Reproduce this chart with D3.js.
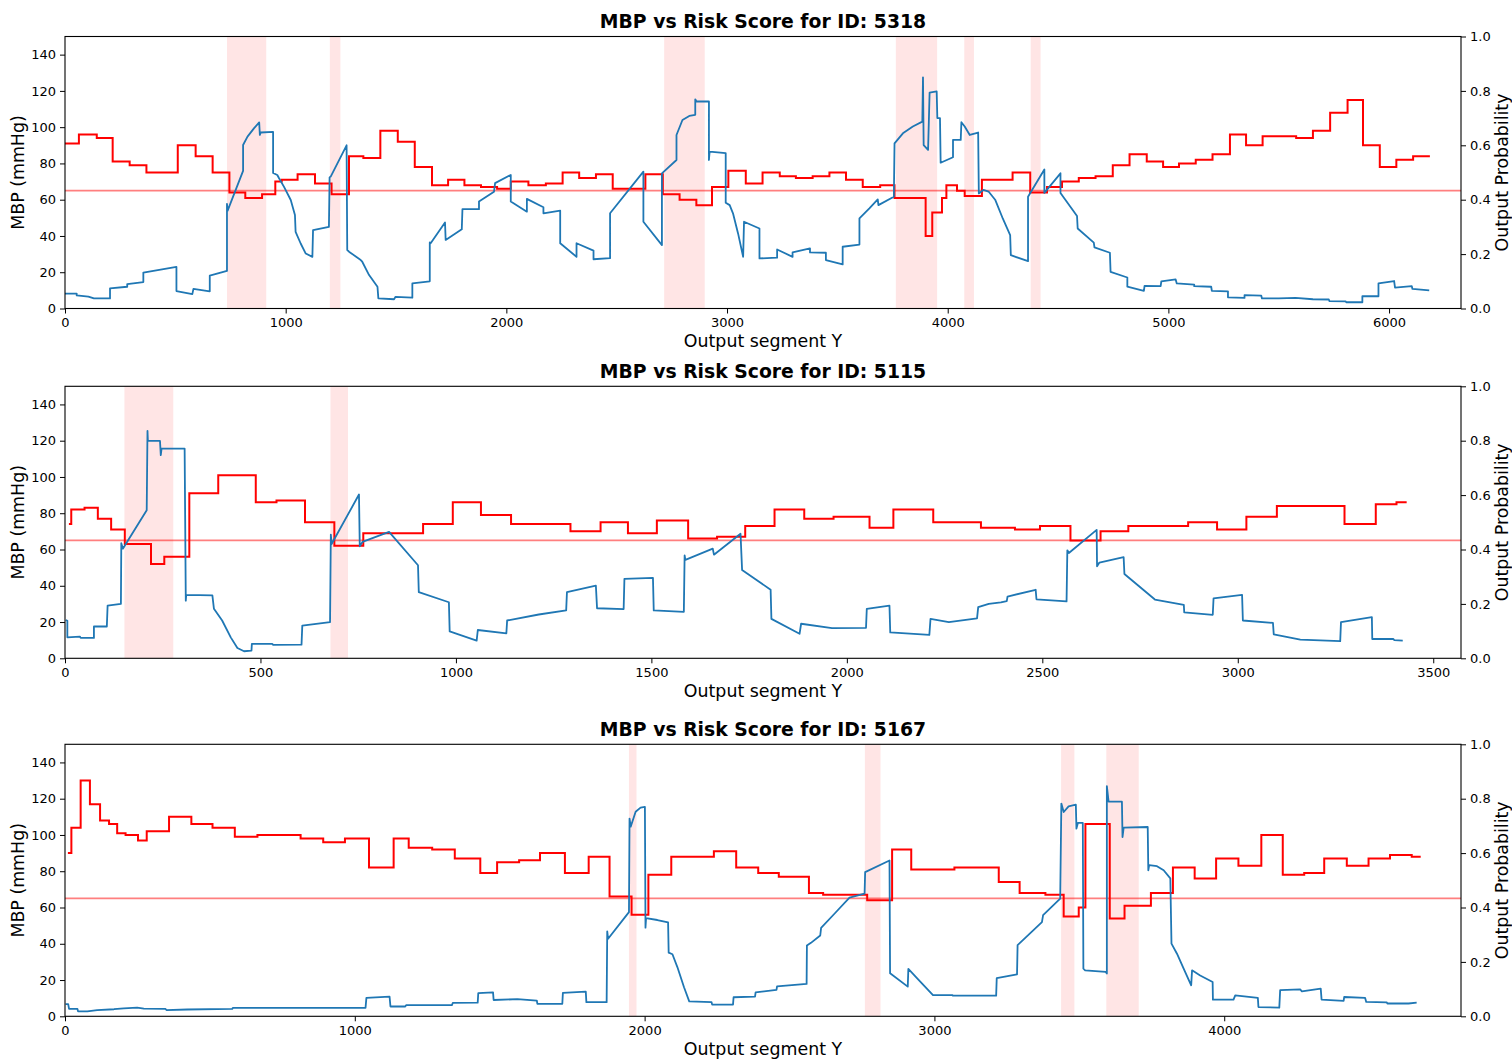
<!DOCTYPE html>
<html><head><meta charset="utf-8">
<script src="https://cdn.jsdelivr.net/npm/d3@7"></script>
<style>
html,body{margin:0;padding:0;background:#fff;}
svg{display:block;font-family:"DejaVu Sans",sans-serif;}
</style></head><body>
<svg id="c" width="1512" height="1059"></svg>
<script>
// ---------------- DATA ----------------
const titles = ["MBP vs Risk Score for ID: 5318", "MBP vs Risk Score for ID: 5115", "MBP vs Risk Score for ID: 5167"];
const xAxisLabel = "Output segment Y";
const leftLabel = "MBP (mmHg)";
const rightLabel = "Output Probability";
const mbpThreshold = 65;
const leftTicks = [0,20,40,60,80,100,120,140];
const rightTicks = [0,0.2,0.4,0.6,0.8,1.0];
const xTicks1 = [0,1000,2000,3000,4000,5000,6000];
const xTicks2 = [0,500,1000,1500,2000,2500,3000,3500];
const xTicks3 = [0,1000,2000,3000,4000];
const xMax = [6326, 3571, 4817];

// MBP step series: [segment start, MBP]; last entry = end of series
const mbp1 = [[0,91],[63,96],[144,94],[216,81],[293,79],[369,75],[511,90],[592,84],[669,75],[745,64],[817,61],[893,63],[953,70],[982,71],[1054,74],[1133,69],[1208,63],[1287,84],[1352,83],[1429,98],[1508,92],[1585,78],[1663,68],[1736,71],[1810,68],[1885,67],[1958,66],[2020,70],[2100,68],[2179,69],[2255,75],[2330,72],[2406,74],[2482,66],[2630,74],[2709,63],[2785,60],[2861,57],[2932,67],[3006,76],[3085,69],[3161,75],[3239,73],[3312,72],[3388,73],[3464,75],[3539,71],[3615,67],[3694,68],[3759,61],[3900,40],[3930,53],[3974,61],[3994,68],[4042,65],[4077,62],[4155,71],[4294,75],[4374,64],[4450,67],[4518,70],[4594,72],[4670,73],[4748,79],[4824,85],[4902,81],[4976,78],[5048,80],[5124,82],[5200,85],[5279,96],[5352,90],[5427,95],[5579,94],[5655,98],[5733,108],[5812,115],[5882,90],[5958,78],[6033,82],[6109,84],[6185,84]];
const mbp2 = [[10,74],[16,82],[50,83],[84,77],[118,71],[153,63],[220,52],[254,56],[318,91],[392,101],[488,86],[541,87],[614,75],[689,62],[763,69],[916,74],[992,86],[1064,79],[1141,74],[1293,70],[1370,75],[1440,69],[1514,76],[1594,66],[1668,67],[1740,73],[1815,82],[1891,77],[1966,78],[2058,72],[2119,82],[2221,75],[2343,72],[2430,71],[2494,73],[2572,65],[2649,70],[2720,73],[2873,75],[2947,71],[3022,78],[3100,84],[3273,74],[3353,85],[3406,86],[3432,86]];
const mbp3 = [[10,90],[22,104],[54,130],[86,117],[121,108],[152,106],[180,101],[209,100],[252,97],[282,102],[359,110],[436,106],[509,104],[586,99],[664,100],[813,98],[891,96],[966,98],[1049,82],[1134,98],[1186,93],[1267,92],[1345,87],[1433,79],[1491,85],[1567,86],[1639,90],[1725,79],[1807,88],[1879,66],[1955,56],[2013,78],[2092,88],[2239,91],[2316,82],[2392,79],[2463,77],[2567,68],[2616,67],[2768,64],[2854,92],[2920,81],[3069,82],[3222,74],[3294,68],[3383,67],[3446,55],[3498,60],[3521,106],[3605,54],[3656,61],[3747,68],[3823,82],[3898,76],[3972,87],[4049,83],[4128,100],[4202,78],[4276,79],[4345,87],[4423,83],[4498,87],[4572,89],[4647,88],[4678,88]];

// Output probability series: [segment, probability]
const prob1 = [[0,0.055],[53,0.055],[53,0.048],[106,0.044],[131,0.037],[204,0.037],[204,0.074],[282,0.080],[282,0.090],[355,0.097],[355,0.132],[505,0.153],[505,0.064],[577,0.053],[582,0.072],[656,0.063],[656,0.121],[734,0.138],[734,0.385],[737,0.36],[807,0.506],[807,0.601],[827,0.632],[857,0.663],[880,0.684],[883,0.638],[887,0.647],[943,0.649],[943,0.498],[962,0.491],[970,0.479],[992,0.448],[1023,0.399],[1042,0.344],[1045,0.282],[1068,0.239],[1091,0.202],[1121,0.190],[1124,0.288],[1196,0.300],[1199,0.482],[1204,0.485],[1276,0.6],[1279,0.215],[1287,0.209],[1340,0.178],[1347,0.172],[1378,0.123],[1416,0.080],[1420,0.037],[1491,0.034],[1498,0.043],[1574,0.040],[1574,0.092],[1653,0.100],[1653,0.243],[1657,0.240],[1722,0.316],[1725,0.252],[1798,0.291],[1801,0.365],[1876,0.365],[1876,0.393],[1944,0.429],[1949,0.461],[2020,0.491],[2020,0.393],[2093,0.356],[2093,0.403],[2168,0.372],[2168,0.350],[2244,0.360],[2244,0.240],[2318,0.190],[2318,0.240],[2395,0.213],[2395,0.181],[2470,0.185],[2470,0.350],[2621,0.503],[2621,0.319],[2705,0.233],[2705,0.497],[2771,0.546],[2771,0.638],[2798,0.693],[2829,0.708],[2856,0.712],[2856,0.769],[2862,0.761],[2918,0.761],[2918,0.546],[2921,0.577],[2994,0.571],[2994,0.389],[3012,0.380],[3027,0.350],[3050,0.276],[3073,0.190],[3077,0.319],[3147,0.294],[3147,0.184],[3227,0.187],[3227,0.217],[3297,0.190],[3297,0.206],[3376,0.221],[3376,0.206],[3448,0.205],[3448,0.178],[3524,0.162],[3524,0.227],[3600,0.235],[3600,0.331],[3645,0.368],[3683,0.401],[3686,0.380],[3756,0.411],[3759,0.607],[3797,0.644],[3842,0.669],[3885,0.687],[3888,0.850],[3891,0.601],[3911,0.583],[3918,0.794],[3950,0.798],[3953,0.700],[3965,0.700],[3968,0.536],[4024,0.556],[4024,0.620],[4059,0.620],[4062,0.685],[4077,0.669],[4100,0.638],[4138,0.647],[4141,0.423],[4162,0.436],[4185,0.430],[4215,0.400],[4250,0.330],[4283,0.270],[4286,0.196],[4364,0.174],[4364,0.411],[4438,0.511],[4438,0.425],[4511,0.497],[4511,0.425],[4586,0.340],[4589,0.294],[4662,0.242],[4665,0.225],[4735,0.205],[4738,0.135],[4814,0.114],[4814,0.080],[4889,0.065],[4892,0.083],[4965,0.082],[4968,0.100],[5033,0.107],[5038,0.092],[5117,0.088],[5117,0.082],[5194,0.080],[5197,0.065],[5270,0.063],[5270,0.041],[5345,0.039],[5345,0.049],[5421,0.047],[5424,0.037],[5500,0.037],[5576,0.039],[5655,0.034],[5727,0.033],[5730,0.027],[5803,0.026],[5806,0.023],[5879,0.023],[5879,0.045],[5952,0.045],[5952,0.092],[6023,0.101],[6027,0.077],[6103,0.082],[6106,0.072],[6182,0.067]];
const prob2 = [[2,0.141],[6,0.138],[6,0.077],[38,0.080],[40,0.075],[74,0.075],[74,0.117],[107,0.117],[109,0.194],[143,0.200],[144,0.423],[148,0.403],[209,0.544],[211,0.836],[212,0.799],[243,0.799],[245,0.747],[247,0.771],[306,0.771],[309,0.212],[310,0.233],[377,0.231],[381,0.182],[402,0.139],[424,0.077],[441,0.038],[458,0.026],[477,0.028],[478,0.053],[530,0.053],[533,0.049],[605,0.050],[607,0.120],[678,0.133],[680,0.455],[682,0.420],[752,0.602],[754,0.412],[761,0.428],[829,0.465],[903,0.342],[905,0.243],[982,0.206],[984,0.099],[1053,0.065],[1056,0.104],[1129,0.092],[1131,0.139],[1212,0.161],[1282,0.176],[1284,0.243],[1358,0.267],[1361,0.184],[1429,0.181],[1431,0.292],[1504,0.296],[1506,0.176],[1583,0.171],[1585,0.378],[1587,0.362],[1657,0.403],[1660,0.381],[1728,0.458],[1732,0.325],[1805,0.252],[1807,0.145],[1879,0.090],[1883,0.127],[1962,0.111],[2049,0.112],[2051,0.182],[2109,0.194],[2111,0.095],[2211,0.086],[2214,0.145],[2261,0.133],[2333,0.147],[2336,0.188],[2363,0.200],[2394,0.206],[2409,0.210],[2411,0.227],[2483,0.252],[2485,0.217],[2562,0.209],[2564,0.397],[2568,0.387],[2639,0.472],[2640,0.338],[2646,0.352],[2708,0.372],[2710,0.310],[2788,0.216],[2862,0.196],[2863,0.169],[2936,0.160],[2938,0.220],[3011,0.233],[3013,0.139],[3090,0.130],[3092,0.088],[3160,0.069],[3262,0.063],[3264,0.133],[3343,0.151],[3344,0.071],[3398,0.071],[3400,0.067],[3422,0.065]];
const prob3 = [[2,0.045],[11,0.045],[14,0.027],[43,0.027],[45,0.018],[77,0.018],[111,0.023],[169,0.026],[203,0.029],[249,0.032],[272,0.028],[347,0.027],[350,0.023],[422,0.025],[577,0.027],[579,0.031],[1037,0.031],[1040,0.068],[1120,0.072],[1123,0.036],[1174,0.036],[1177,0.041],[1335,0.041],[1338,0.049],[1424,0.050],[1426,0.085],[1477,0.088],[1479,0.060],[1561,0.063],[1628,0.058],[1630,0.046],[1716,0.046],[1718,0.086],[1797,0.091],[1799,0.052],[1869,0.052],[1871,0.312],[1874,0.285],[1946,0.383],[1948,0.727],[1952,0.697],[1969,0.752],[1986,0.767],[2001,0.770],[2003,0.326],[2005,0.361],[2044,0.354],[2081,0.345],[2083,0.234],[2096,0.228],[2113,0.181],[2136,0.107],[2154,0.055],[2231,0.052],[2233,0.043],[2305,0.043],[2307,0.070],[2381,0.072],[2383,0.088],[2455,0.097],[2457,0.110],[2559,0.119],[2560,0.260],[2574,0.270],[2606,0.297],[2609,0.325],[2655,0.377],[2707,0.436],[2759,0.451],[2761,0.530],[2845,0.573],[2847,0.158],[2908,0.109],[2910,0.174],[2943,0.137],[2995,0.078],[3061,0.078],[3064,0.076],[3213,0.076],[3215,0.140],[3285,0.154],[3287,0.262],[3371,0.346],[3375,0.372],[3434,0.433],[3438,0.782],[3446,0.751],[3463,0.772],[3488,0.778],[3490,0.690],[3495,0.711],[3512,0.711],[3514,0.175],[3520,0.169],[3591,0.163],[3595,0.157],[3595,0.846],[3601,0.789],[3647,0.789],[3649,0.659],[3653,0.694],[3736,0.696],[3738,0.537],[3741,0.556],[3768,0.552],[3791,0.537],[3814,0.507],[3818,0.267],[3837,0.230],[3860,0.175],[3886,0.114],[3889,0.169],[3917,0.150],[3960,0.126],[3961,0.061],[4032,0.061],[4038,0.077],[4116,0.068],[4118,0.034],[4190,0.032],[4193,0.096],[4262,0.099],[4268,0.092],[4333,0.102],[4336,0.061],[4412,0.057],[4414,0.071],[4486,0.068],[4490,0.053],[4561,0.051],[4563,0.047],[4636,0.047],[4664,0.050]];

// hypotension shaded spans [start, end]
const shade1 = [[734,912],[1200,1248],[2715,2899],[3765,3952],[4075,4119],[4376,4421]];
const shade2 = [[152,277],[679,724]];
const shade3 = [[1946,1972],[2760,2814],[3437,3483],[3593,3705]];

// ---------------- DRAW ----------------
const svg = d3.select("#c");
const L = 65, R = 1461;
const panelTops = [36.5, 386.3, 744.3];
const PH = 272;
const mbpSets = [mbp1, mbp2, mbp3];
const probSets = [prob1, prob2, prob3];
const shadeSets = [shade1, shade2, shade3];
const xTickSets = [xTicks1, xTicks2, xTicks3];

for (let i = 0; i < 3; i++) {
  const top = panelTops[i], bot = top + PH;
  const x = d3.scaleLinear().domain([0, xMax[i]]).range([L, R]);
  const yL = d3.scaleLinear().domain([0, 150]).range([bot, top]);
  const yR = d3.scaleLinear().domain([0, 1]).range([bot, top]);
  const g = svg.append("g");
  const clipId = "clip" + i;
  svg.append("clipPath").attr("id", clipId).append("rect")
    .attr("x", L).attr("y", top).attr("width", R - L).attr("height", PH);
  const plot = g.append("g").attr("clip-path", `url(#${clipId})`);

  // shaded spans
  plot.selectAll("rect.sh").data(shadeSets[i]).join("rect")
    .attr("x", d => x(d[0])).attr("width", d => x(d[1]) - x(d[0]))
    .attr("y", top).attr("height", PH)
    .attr("fill", "#ff0000").attr("fill-opacity", 0.1);

  // threshold line
  plot.append("line").attr("x1", L).attr("x2", R)
    .attr("y1", yL(mbpThreshold)).attr("y2", yL(mbpThreshold))
    .attr("stroke", "#ff0000").attr("stroke-opacity", 0.5).attr("stroke-width", 1.8);

  // MBP step line
  plot.append("path").datum(mbpSets[i])
    .attr("d", d3.line().x(d => x(d[0])).y(d => yL(d[1])).curve(d3.curveStepAfter))
    .attr("fill", "none").attr("stroke", "#ff0000").attr("stroke-width", 2);

  // probability line
  plot.append("path").datum(probSets[i])
    .attr("d", d3.line().x(d => x(d[0])).y(d => yR(d[1])))
    .attr("fill", "none").attr("stroke", "#1f77b4").attr("stroke-width", 1.8)
    .attr("stroke-linejoin", "round");

  // axes
  const ax = g.append("g").attr("transform", `translate(0,${bot})`)
    .call(d3.axisBottom(x).tickValues(xTickSets[i]).tickSize(5).tickPadding(4).tickFormat(d3.format("d")));
  const ayl = g.append("g").attr("transform", `translate(${L},0)`)
    .call(d3.axisLeft(yL).tickValues(leftTicks).tickSize(5).tickPadding(4));
  const ayr = g.append("g").attr("transform", `translate(${R},0)`)
    .call(d3.axisRight(yR).tickValues(rightTicks).tickSize(5).tickPadding(4).tickFormat(d3.format(".1f")));
  [ax, ayl, ayr].forEach(a => {
    a.select(".domain").remove();
    a.selectAll("text").attr("font-size", 13).attr("fill", "#000").attr("font-family", "DejaVu Sans");
    a.selectAll("line").attr("stroke", "#000").attr("stroke-width", 1);
  });
  // frame
  g.append("rect").attr("x", L).attr("y", top).attr("width", R - L).attr("height", PH)
    .attr("fill", "none").attr("stroke", "#000").attr("stroke-width", 1.1);

  // title
  g.append("text").attr("x", (L + R) / 2).attr("y", top - 8.5)
    .attr("text-anchor", "middle").attr("font-size", 18.8).attr("font-weight", "bold")
    .text(titles[i]);
  // x label
  g.append("text").attr("x", (L + R) / 2).attr("y", bot + 38.5)
    .attr("text-anchor", "middle").attr("font-size", 17.4).text(xAxisLabel);
  // y labels
  g.append("text").attr("transform", `translate(24,${(top + bot) / 2}) rotate(-90)`)
    .attr("text-anchor", "middle").attr("font-size", 17.4).text(leftLabel);
  g.append("text").attr("transform", `translate(1508,${(top + bot) / 2}) rotate(-90)`)
    .attr("text-anchor", "middle").attr("font-size", 17.4).text(rightLabel);
}
</script>
</body></html>
